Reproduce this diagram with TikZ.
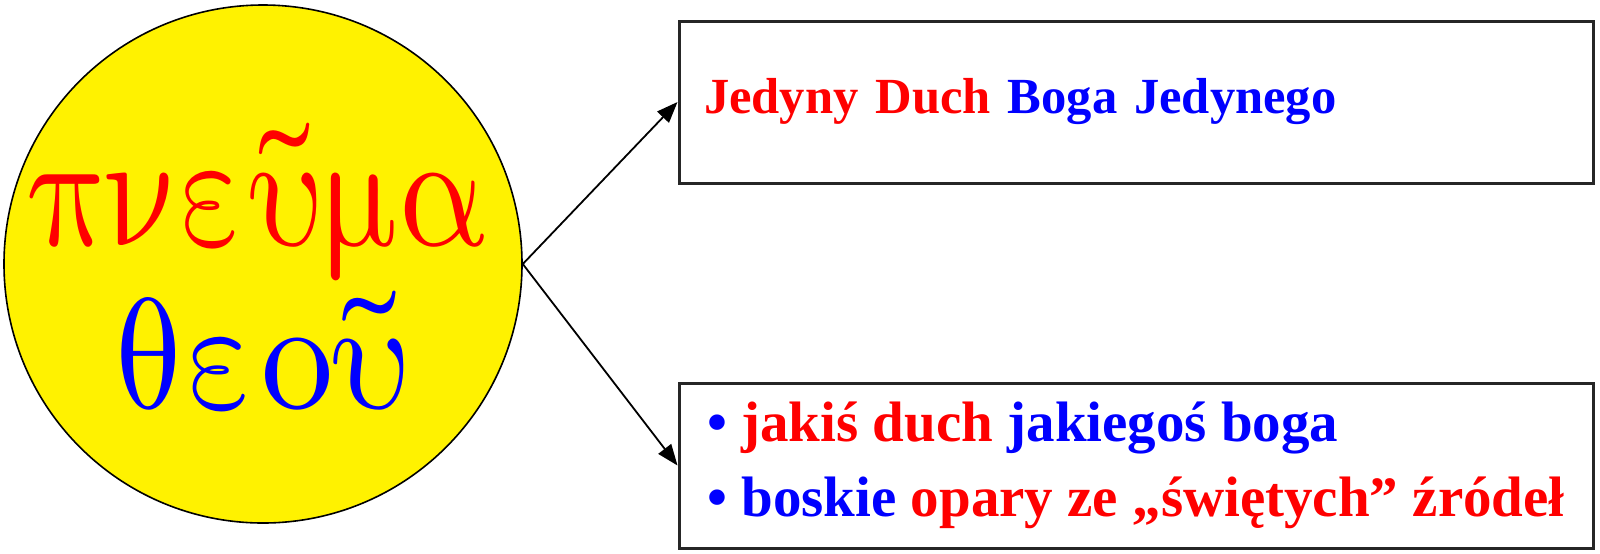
\documentclass[tikz,border=0pt]{standalone}
\usepackage{fontspec}
\usepackage{unicode-math}
\setmainfont{Liberation Serif}
\setmathfont{Latin Modern Math}
\usetikzlibrary{shapes.geometric, arrows.meta, positioning}
\tikzstyle{ball} = [circle, draw=black, line width=0.8pt, fill=yellow, minimum size=259pt, inner sep=0pt]
\tikzstyle{greek} = [anchor=base, inner sep=0pt, font=\fontsize{82}{82}\selectfont]
\tikzstyle{normal} = [rectangle, draw=black!85, line width=1.5pt, minimum width=457pt, align=left, font=\bfseries]
\tikzstyle{arrow} = [line width=0.9pt, -{Triangle[length=10.5pt, width=8pt]}]

\begin{document}
\begin{tikzpicture}[x=0.5pt, y=-0.5pt]
\useasboundingbox (0,0) rectangle (1600,553);

%% NODES

\node (pneuma) [ball] at (263,264) {};
\node (word1) [greek, red] at (259,245)
  {\scalebox{0.83}[1]{$\symup{\pi\nu\varepsilon}\widetilde{\symup{\upsilon}}\symup{\mu\alpha}$}};
\node (word2) [greek, blue] at (262,408)
  {\scalebox{0.88}[0.96]{$\symup{\theta\varepsilon\omicron}\widetilde{\symup{\upsilon}}$}};
\node (one) [normal, minimum height=81pt, text width=432pt, inner xsep=12.5pt,
  font=\bfseries\fontsize{25.3}{30}\selectfont] at (1136,102)
  {\color{red}Jedyny Duch \color{blue}Boga Jedynego};
\node (some) [normal, below of=one, node distance=181.75pt, minimum height=82.5pt,
  font=\bfseries\fontsize{28.5}{37.5}\selectfont]
  {\color{blue}• \color{red}jakiś duch \color{blue}jakiegoś boga\\
   \color{blue}• boskie \color{red}opary ze „świętych” źródeł};

%% ARROWS

\draw [arrow] (pneuma.east) -- (one.west);
\draw [arrow] (pneuma.east) -- (some.west);

\end{tikzpicture}
\end{document}
